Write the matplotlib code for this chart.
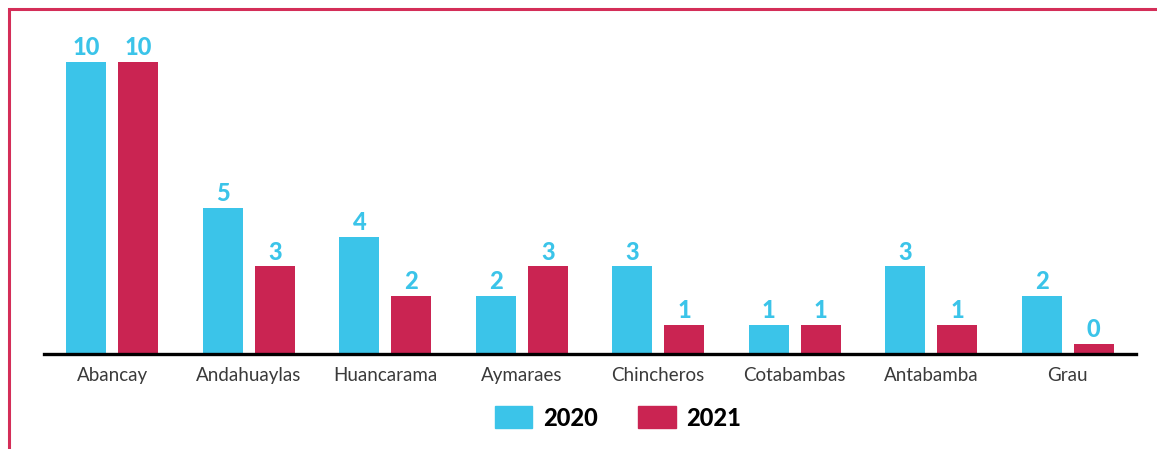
import matplotlib.pyplot as plt
import numpy as np
from matplotlib.patches import Rectangle, Patch

# data
provincias = ["Abancay", "Andahuaylas", "Huancarama", "Aymaraes",
              "Chincheros", "Cotabambas", "Antabamba", "Grau"]
casos_2020 = [10, 5, 4, 2, 3, 1, 3, 2]
casos_2021 = [10, 3, 2, 3, 1, 1, 1, 0]
anios = ["2020", "2021"]

azul = "#3BC4E9"
rojo = "#CA2452"

fig = plt.figure(figsize=(11.57, 4.49), dpi=100)
ax = fig.add_axes([44 / 1157, 95 / 449, 1092 / 1157, 324 / 449])

x = np.arange(len(provincias))
w = 0.293
off = 0.19
# zero values still get a small stub, like in the original
h20 = np.maximum(casos_2020, 0.35)
h21 = np.maximum(casos_2021, 0.35)
ax.bar(x - off, h20, width=w, color=azul)
ax.bar(x + off, h21, width=w, color=rojo)

for xi, v, h in zip(x - off, casos_2020, h20):
    ax.annotate(str(v), (xi, h), xytext=(0, 2), textcoords="offset points",
                ha="center", va="bottom", color=azul, fontsize=17,
                fontweight="black", family="Lato")
for xi, v, h in zip(x + off, casos_2021, h21):
    ax.annotate(str(v), (xi, h), xytext=(0, 2), textcoords="offset points",
                ha="center", va="bottom", color=azul, fontsize=17,
                fontweight="black", family="Lato")

ax.set_xlim(-0.5, 7.5)
ax.set_ylim(0, 11.1)
ax.set_xticks(x)
ax.set_xticklabels(provincias, fontsize=13.5, color="#3a3a3a", family="Lato")
ax.tick_params(axis="x", length=0, pad=9.5)
ax.set_yticks([])
for s in ["top", "right", "left"]:
    ax.spines[s].set_visible(False)
ax.spines["bottom"].set_linewidth(2.4)
ax.spines["bottom"].set_color("black")

handles = [Patch(color=azul), Patch(color=rojo)]
fig.legend(handles, anios, loc="center", bbox_to_anchor=(618 / 1157, 1 - 418 / 449),
           ncol=2, frameon=False, handlelength=1.6, handleheight=1.05,
           handletextpad=0.45, columnspacing=1.7,
           prop={"family": "Lato", "weight": "black", "size": 17})

# crimson frame on the left and top
fig.add_artist(Rectangle((8.5 / 1157, -0.1), 1.2, 1.1 - 9.5 / 449,
                         transform=fig.transFigure, fill=False,
                         edgecolor="#D42E58", lw=2.2))

fig.savefig("out.png", dpi=100)
